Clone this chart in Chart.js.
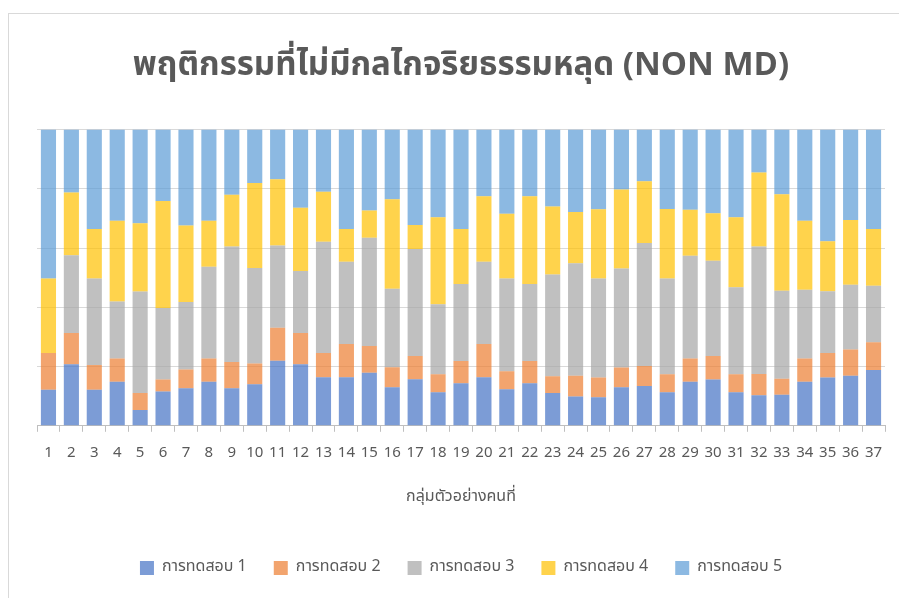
<!DOCTYPE html>
<html>
<head>
<meta charset="utf-8">
<script src="https://cdn.jsdelivr.net/npm/chart.js@4.4.1/dist/chart.umd.min.js"></script>
<style>
    html, body { margin: 0; padding: 0; background: #fff; overflow: hidden; }
    #frame { position: absolute; left: 8px; top: 13px; width: 920px; height: 640px; border: 1px solid #d9d9d9; }
    #wrap { position: absolute; left: 0; top: 0; width: 899px; height: 598px; }
</style>
</head>
<body>
<div id="frame"></div>
<div id="wrap"><canvas id="chart"></canvas></div>
<script>
// --- Data (percent of each bar) ---
const categories = ['1', '2', '3', '4', '5', '6', '7', '8', '9', '10', '11', '12', '13', '14', '15', '16', '17', '18', '19',
    '20', '21', '22', '23', '24', '25', '26', '27', '28', '29', '30', '31', '32', '33', '34', '35', '36', '37'];

const test1 = [12.2, 20.8, 12.2, 14.9, 5.3, 11.6, 12.7, 14.9, 12.7, 14.0, 22.0, 20.8, 16.4, 16.4, 17.9, 13.0, 15.7, 11.3, 14.4,
    16.4, 12.3, 14.4, 11.1, 9.9, 9.6, 13.0, 13.4, 11.3, 14.9, 15.6, 11.3, 10.3, 10.5, 14.9, 16.3, 16.9, 18.8];
const test2 = [12.4, 10.5, 8.3, 7.8, 5.8, 4.0, 6.3, 7.8, 8.8, 7.0, 11.1, 10.5, 8.2, 11.2, 9.0, 6.8, 7.9, 6.1, 7.5,
    11.2, 6.1, 7.5, 5.6, 7.0, 6.7, 6.7, 6.8, 6.1, 7.8, 8.0, 6.1, 7.2, 5.4, 7.8, 8.3, 8.9, 9.4];
const test3 = [0, 26.3, 29.2, 19.3, 34.2, 24.2, 22.8, 31.0, 39.0, 32.3, 27.8, 21.0, 37.5, 27.8, 36.6, 26.5, 36.1, 23.6, 26.0,
    27.8, 31.3, 26.0, 34.4, 38.0, 33.4, 33.4, 41.5, 32.3, 34.7, 32.1, 29.4, 43.0, 29.7, 23.2, 20.8, 21.8, 19.1];
const test4 = [25.1, 21.2, 16.7, 27.2, 23.1, 36.1, 25.8, 15.5, 17.5, 28.7, 22.3, 21.3, 16.9, 11.0, 9.2, 30.2, 8.1, 29.4, 18.5,
    22.1, 21.9, 29.6, 22.9, 17.3, 23.4, 26.7, 20.9, 23.5, 15.5, 16.1, 23.6, 25.0, 32.6, 23.3, 16.9, 21.9, 19.1];
const test5 = [50.3, 21.2, 33.6, 30.8, 31.6, 24.1, 32.4, 30.8, 22.0, 18.0, 16.8, 26.4, 21.0, 33.6, 27.3, 23.5, 32.2, 29.6, 33.6,
    22.5, 28.4, 22.5, 26.0, 27.8, 26.9, 20.2, 17.4, 26.8, 27.1, 28.2, 29.6, 14.5, 21.8, 30.8, 37.7, 30.5, 33.6];

const seriesNames = ['การทดสอบ 1', 'การทดสอบ 2', 'การทดสอบ 3', 'การทดสอบ 4', 'การทดสอบ 5'];
const yMax = 100;
const yStep = 20;

// --- Look ---
const FONT = "'Leelawadee UI', Tahoma, 'Noto Sans Thai', 'Noto Sans', sans-serif";
const TEXT = '#595959';
const colors = [
    'rgba(68, 114, 196, 0.7)',
    'rgba(237, 125, 49, 0.7)',
    'rgba(165, 165, 165, 0.7)',
    'rgba(255, 192, 0, 0.7)',
    'rgba(91, 155, 213, 0.7)'
];

const seriesValues = [test1, test2, test3, test4, test5];
const datasets = seriesValues.map((values, i) => ({
    label: seriesNames[i],
    data: values,
    backgroundColor: colors[i],
    borderWidth: 0,
    categoryPercentage: 1,
    barPercentage: 0.66
}));

new Chart(document.getElementById('chart'), {
    type: 'bar',
    data: { labels: categories, datasets: datasets },
    options: {
        responsive: true,
        maintainAspectRatio: false,
        animation: false,
        layout: { padding: { left: 37, right: 14, top: 0, bottom: 12 } },
        plugins: {
            title: {
                display: true,
                text: 'พฤติกรรมที่ไม่มีกลไกจริยธรรมหลุด (NON MD)',
                color: TEXT,
                font: { family: FONT, size: 33, weight: 'bold' },
                padding: { top: 49, bottom: 41 }
            },
            legend: {
                position: 'bottom',
                labels: {
                    color: TEXT,
                    font: { family: FONT, size: 16 },
                    boxWidth: 14,
                    boxHeight: 14,
                    padding: 27
                }
            },
            tooltip: { enabled: false }
        },
        scales: {
            x: {
                stacked: true,
                grid: { offset: true, drawOnChartArea: false, color: '#bfbfbf', tickLength: 6 },
                border: { color: '#bfbfbf' },
                ticks: { color: TEXT, font: { family: FONT, size: 15 }, padding: 13, maxRotation: 0, autoSkip: false },
                title: {
                    display: true,
                    text: 'กลุ่มตัวอย่างคนที่',
                    color: TEXT,
                    font: { family: FONT, size: 16 },
                    padding: { top: 12, bottom: 26 }
                }
            },
            y: {
                stacked: true,
                min: 0,
                max: yMax,
                grid: { color: '#d9d9d9', drawTicks: false },
                border: { display: false },
                ticks: { display: false, stepSize: yStep },
                afterFit: (scale) => { scale.width = 0; }
            }
        }
    }
});
</script>
</body>
</html>
